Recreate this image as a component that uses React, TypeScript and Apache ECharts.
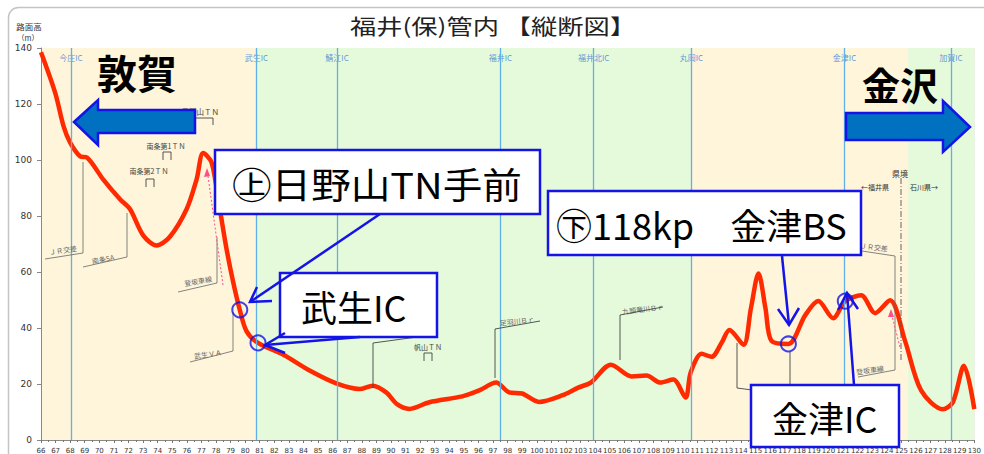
import React, { useEffect, useRef } from "react";
import * as echarts from "echarts";

// ---- data ----
const KM_MIN = 66;
const KM_MAX = 130;
const ELEV_MAX = 140;
const ELEV_STEP = 20;

const profileKm = [
  66, 66.98, 67.55, 68.0, 68.69, 69.15, 70.26, 71.42, 72.1, 73.02, 73.93, 74.84, 75.99, 76.67, 77.12,
  77.7, 78.26, 78.72, 79.17, 79.63, 80.09, 80.88, 82.59, 84.42, 86.25, 87.84, 88.75, 89.67, 90.44,
  91.26, 92.63, 94.89, 96.05, 97.21, 98.1, 98.99, 100.15, 101.72, 102.88, 103.7, 105.08, 106.5,
  107.52, 108.47, 109.36, 110.2, 110.55, 111.3, 111.98, 112.67, 113.21, 114.17, 114.68, 115.2,
  115.68, 116.09, 117.25, 118.41, 119.3, 120.32, 121.15, 122.24, 123.2, 124.22, 125.25, 126.35,
  127.85, 128.53, 129.29, 130,
];
const profileElev = [
  138.5, 123.9, 112, 106.2, 101.3, 100.9, 93.1, 86, 82.5, 73, 69.5, 72.6, 82.5, 93.1, 102.5,
  99.1, 82.5, 68.3, 56.6, 46.5, 38.9, 34.7, 30.5, 24.8, 20.2, 18.2, 19.4, 17, 12.7,
  11.1, 13.5, 15.6, 17.7, 20.5, 17, 16.6, 13.6, 15.9, 18.8, 20.5, 26.9, 22.7,
  23, 20.5, 21.6, 15.2, 24.1, 30.8, 29.7, 34.7, 39.3, 34, 47, 59.5,
  47, 35.4, 34.3, 44.6, 49.6, 43.5, 49.6, 51.7, 45.3, 49.9, 35.4, 17.7,
  11, 13.5, 26.5, 11,
];

const icNames = ["今庄IC", "武生IC", "鯖江IC", "福井IC", "福井北IC", "丸岡IC", "金津IC", "加賀IC"];
const icKm = [68.05, 80.77, 86.3, 97.5, 103.9, 110.6, 121.1, 128.4];
const icLabelElev = 136.6;

const bandEdges = [66, 80.77, 110.6, 125.46, 130];
const bandColors = ["#FEF5DA", "#E5FADA", "#FEF5DA", "#E5FADA"];

const markKm = [79.63, 80.88, 117.25, 121.15];
const markElev = [46.5, 34.7, 34.3, 49.6];

const titleText = "福井(保)管内 【縦断図】";
const calloutTexts = ["㊤日野山TN手前", "武生IC", "㊦118kp　金津BS", "金津IC"];
const cityTexts = ["敦賀", "金沢"];

const JP = '"Noto Sans CJK JP", "Noto Sans", sans-serif';
const BLUE = "#1414E8";
const GRAY = "#666";
const PINK = "#FF4D88";

function txt(x: number, y: number, text: string, extra: any = {}, styleExtra: any = {}) {
  return {
    type: "text",
    x,
    y,
    silent: true,
    z: extra.z ?? 6,
    rotation: extra.rotation ?? 0,
    scaleX: extra.scaleX ?? 1,
    style: {
      text,
      fontFamily: JP,
      fontSize: 7,
      fill: GRAY,
      align: "center",
      textAlign: "center",
      verticalAlign: "middle",
      textVerticalAlign: "middle",
      ...styleExtra,
    },
  };
}
function pl(points: number[][], stroke = GRAY, lineWidth = 0.8, z = 6, extra: any = {}) {
  return {
    type: "polyline",
    silent: true,
    z,
    shape: { points },
    style: { stroke, lineWidth, fill: "none", ...extra },
  };
}
function box(x: number, y: number, w: number, h: number) {
  return {
    type: "rect",
    silent: true,
    z: 20,
    shape: { x, y, width: w, height: h },
    style: { fill: "#fff", stroke: BLUE, lineWidth: 2.5 },
  };
}
function bigText(x: number, y: number, text: string, scaleX = 1) {
  return txt(x, y, text, { z: 21, scaleX }, { fontSize: 36, fill: "#000", align: "left", textAlign: "left" });
}
function tunnel(cx: number, top: number) {
  return pl([[cx - 4, top + 8], [cx - 4, top], [cx + 4, top], [cx + 4, top + 8]], "#444", 0.9, 6);
}

export default function App() {
  const ref = useRef<HTMLDivElement>(null);

  useEffect(() => {
    if (!ref.current) return;
    const chart = echarts.init(ref.current, undefined, { renderer: "svg" });

    const profile = profileKm.map((k, i) => [k, profileElev[i]]);
    const bands = bandColors.map((c, i) => [
      { xAxis: bandEdges[i], itemStyle: { color: c } },
      { xAxis: bandEdges[i + 1] },
    ]);

    const graphics: any[] = [
      // outer frame
      {
        type: "rect",
        silent: true,
        z: 0,
        shape: { x: 8.5, y: 7.5, width: 1000, height: 480, r: 10 },
        style: { fill: "none", stroke: "#c4c4c4", lineWidth: 1.5 },
      },
      // title
      txt(493, 25, titleText, { z: 10, scaleX: 1.25 }, { fontSize: 21, fill: "#222" }),
      // y axis name
      txt(29, 26, "路面高", { z: 10 }, { fontSize: 8.5, fill: "#333" }),
      txt(28, 37, "（m）", { z: 10 }, { fontSize: 7.5, fill: "#333" }),

      // small annotations
      txt(219, 111, "日野山ＴＮ", { z: 6 }, { align: "right", textAlign: "right", fontSize: 7.5, fill: "#444" }),
      pl([[195, 118], [213, 118], [213, 125]], "#444", 0.9),
      txt(166, 146, "南条第1ＴＮ", {}, { fill: "#444" }),
      tunnel(167, 152),
      txt(149, 171, "南条第2ＴＮ", {}, { fill: "#444" }),
      tunnel(150, 179),
      txt(63, 250, "ＪＲ交差", { rotation: 0.15 }),
      pl([[45, 259], [83, 253], [83, 162]]),
      txt(103, 259, "南条SA", { rotation: 0.2 }),
      pl([[83, 267], [127, 257], [127, 213]]),
      txt(198, 281, "登坂車線", { rotation: 0.18 }),
      pl([[178, 292], [217, 283], [217, 237]]),
      pl([[223, 285], [208, 176]], PINK, 1, 6, { lineDash: [2, 2] }),
      { type: "polygon", silent: true, z: 6, shape: { points: [[207, 168], [204, 177], [210, 176]] }, style: { fill: PINK } },
      txt(208, 354, "武生ＶＡ", { rotation: 0.15 }),
      pl([[190, 362], [233, 351], [233, 312]]),
      txt(428, 347, "帆山ＴＮ", {}, { fill: "#444" }),
      tunnel(428, 353),
      pl([[373, 388], [373, 343], [417, 337]], "#444", 0.9),
      txt(517, 321, "足羽川Ｂｒ", { rotation: 0.12 }),
      pl([[495, 378], [495, 329], [540, 321]], "#444", 0.9),
      txt(643, 309, "九頭竜川Ｂｒ", { rotation: 0.12 }),
      pl([[620, 360], [620, 315], [663, 307]], "#444", 0.9),
      txt(900, 173, "県境", {}, { fontSize: 8, fill: "#333" }),
      txt(875, 187, "←福井県", {}, { fill: "#333" }),
      txt(924, 187, "石川県→", {}, { fill: "#333" }),
      pl([[901, 178], [901, 360]], "#555", 0.9, 6, { lineDash: [6, 2, 1, 2] }),
      txt(874, 247, "ＪＲ交差", { rotation: -0.12 }),
      pl([[862, 251], [895, 256], [895, 370], [858, 377]]),
      txt(870, 370, "登坂車線", { rotation: 0.15 }),
      pl([[900, 347], [892, 316]], PINK, 1, 6, { lineDash: [2, 2] }),
      { type: "polygon", silent: true, z: 6, shape: { points: [[891, 309], [888, 317], [894, 317]] }, style: { fill: PINK } },
      pl([[737, 343], [737, 388], [752, 390]], "#444", 0.9),
      pl([[790, 352], [790, 385]], "#444", 0.9),

      // direction arrows
      {
        type: "polygon",
        silent: true,
        z: 15,
        shape: { points: [[74, 122], [98, 100], [98, 110], [195, 110], [195, 133], [98, 133], [98, 145]] },
        style: { fill: "#0070C0", stroke: BLUE, lineWidth: 2.5 },
      },
      {
        type: "polygon",
        silent: true,
        z: 15,
        shape: { points: [[970, 127], [943, 101], [943, 113], [846, 113], [846, 140], [943, 140], [943, 152]] },
        style: { fill: "#0070C0", stroke: BLUE, lineWidth: 2.5 },
      },
      txt(137, 72, cityTexts[0], { z: 16 }, { fontSize: 40, fontWeight: "bold", fill: "#000" }),
      txt(900, 83, cityTexts[1], { z: 16 }, { fontSize: 38, fontWeight: "bold", fill: "#000" }),

      // callout boxes
      box(215, 150, 325, 64),
      bigText(232, 183, calloutTexts[0], 1.1),
      box(280, 273, 157, 64),
      bigText(301, 306, calloutTexts[1]),
      box(548, 191, 313, 64),
      bigText(556, 224, calloutTexts[2]),
      box(751, 385, 148, 62),
      bigText(772, 417, calloutTexts[3]),

      // callout pointers
      pl([[380, 214], [250, 302]], BLUE, 2.5, 22),
      pl([[257, 287], [250, 302], [272, 301]], BLUE, 2.5, 22),
      pl([[360, 337], [265, 345]], BLUE, 2.5, 22),
      pl([[285, 333], [265, 345], [285, 353]], BLUE, 2.5, 22),
      pl([[782, 256], [789, 325]], BLUE, 2.5, 22),
      pl([[778, 309], [789, 325], [799, 308]], BLUE, 2.5, 22),
      pl([[854, 385], [847, 293]], BLUE, 2.5, 22),
      pl([[838, 310], [847, 293], [858, 309]], BLUE, 2.5, 22),
    ];

    const option: any = {
      animation: false,
      grid: { left: 41, top: 48, right: 7, bottom: 11 },
      xAxis: {
        type: "value",
        min: KM_MIN,
        max: KM_MAX,
        interval: 1,
        z: 1,
        axisLine: { lineStyle: { color: "#888" } },
        axisTick: { length: 3, lineStyle: { color: "#777" } },
        minorTick: { show: true, splitNumber: 2, length: 2, lineStyle: { color: "#777" } },
        axisLabel: { fontSize: 7, color: "#333", margin: 7, fontFamily: "DejaVu Sans" },
        splitLine: { show: true, lineStyle: { color: "rgba(120,110,80,0.13)", width: 1 } },
      },
      yAxis: {
        type: "value",
        min: 0,
        max: ELEV_MAX,
        interval: ELEV_STEP,
        z: 1,
        axisLine: { show: true, lineStyle: { color: "#888" } },
        axisTick: { show: true, length: 4, lineStyle: { color: "#888" } },
        axisLabel: { fontSize: 9, color: "#333", margin: 9, fontFamily: "DejaVu Sans" },
        splitLine: { show: true, lineStyle: { color: "rgba(110,100,70,0.22)" } },
      },
      graphic: { elements: graphics },
      series: [
        {
          type: "line",
          z: 0,
          silent: true,
          data: [],
          markArea: { silent: true, data: bands },
        },
        {
          type: "line",
          z: 2,
          silent: true,
          data: [],
          markLine: {
            silent: true,
            symbol: ["none", "none"],
            label: { show: false },
            lineStyle: { color: "#62B0E8", width: 1.3, type: "solid" },
            data: icKm.map((k) => ({ xAxis: k })),
          },
        },
        {
          type: "line",
          z: 3,
          smooth: 0.3,
          showSymbol: false,
          silent: true,
          data: profile,
          lineStyle: { color: "#FF2A00", width: 4.5 },
        },
        {
          type: "scatter",
          z: 4,
          silent: true,
          symbolSize: 1,
          itemStyle: { color: "rgba(0,0,0,0)" },
          label: {
            show: true,
            position: "inside",
            formatter: "{b}",
            color: "#3B7DD8",
            fontSize: 8,
            fontFamily: JP,
          },
          data: icKm.map((k, i) => ({ value: [k, icLabelElev], name: icNames[i] })),
        },
        {
          type: "scatter",
          z: 30,
          silent: true,
          symbol: "circle",
          symbolSize: 15,
          itemStyle: { color: "rgba(0,0,0,0)", borderColor: BLUE, borderWidth: 2 },
          data: markKm.map((k, i) => [k, markElev[i]]),
        },
      ],
    };
    chart.setOption(option);
    return () => chart.dispose();
  }, []);

  return (
    <div
      ref={ref}
      style={{ position: "absolute", left: 0, top: 0, width: 984, height: 454, background: "#fff" }}
    />
  );
}
